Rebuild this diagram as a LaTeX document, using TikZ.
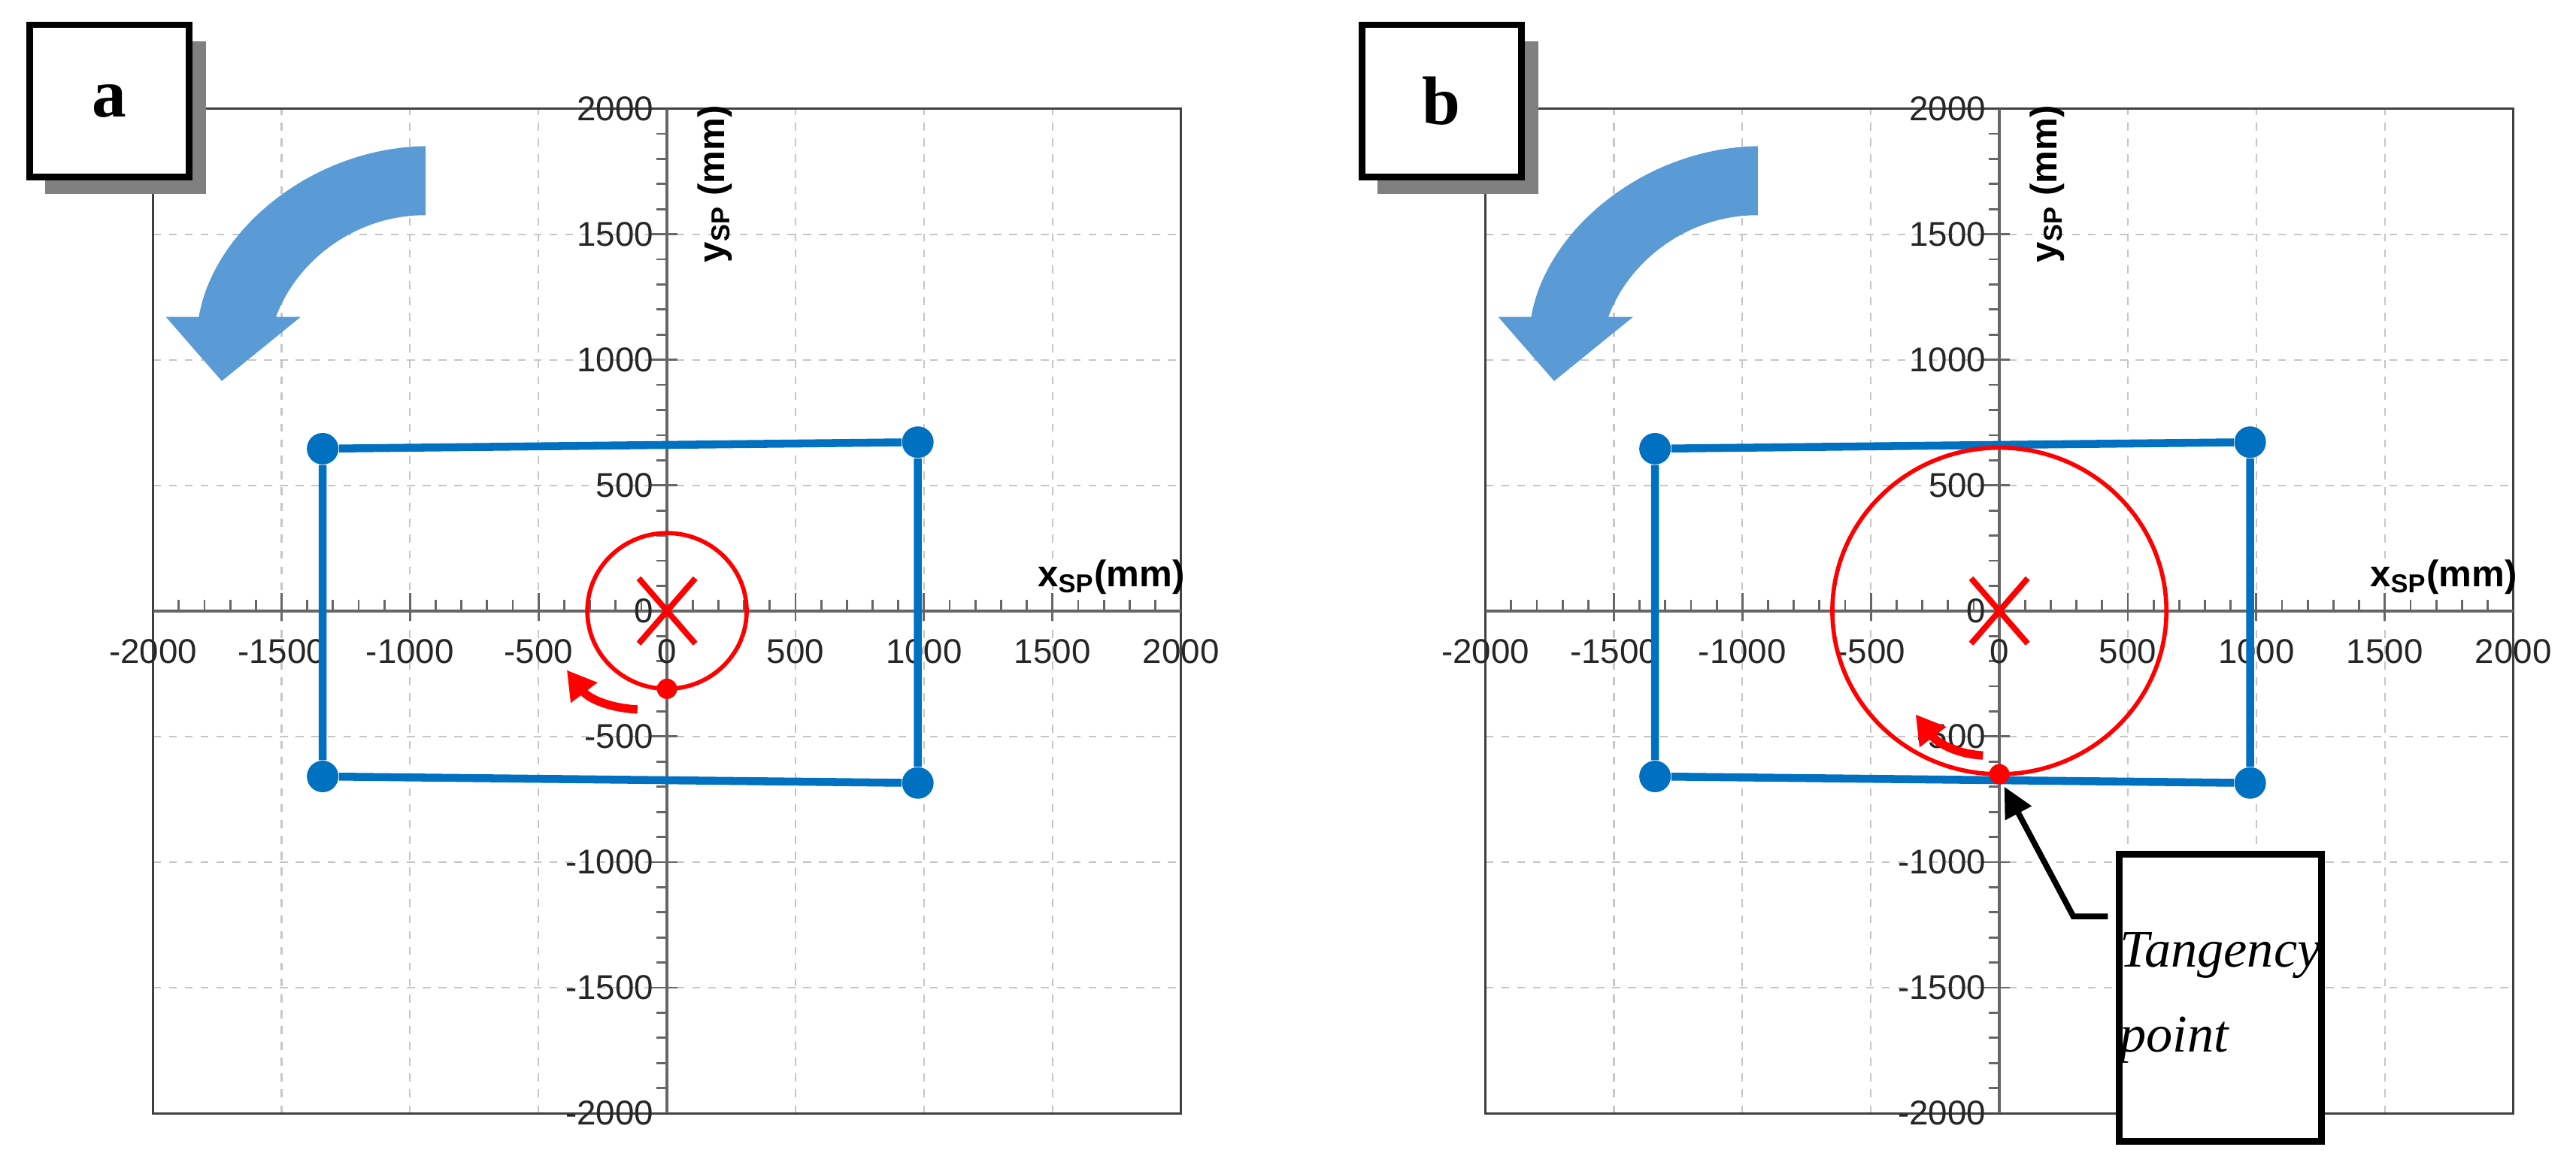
\documentclass[tikz,border=0pt]{standalone}
\usepackage{fontspec}
\setmainfont{Liberation Serif}
\newfontfamily\arialf{Liberation Sans}
\usetikzlibrary{arrows.meta}
\definecolor{plotblue}{RGB}{0,112,192}
\definecolor{arrowblue}{RGB}{91,155,213}
\tikzset{
  grid/.style={gray!45, dashed, line width=0.6pt},
  frame/.style={black!75, line width=0.8pt},
  axis/.style={black!60, line width=1.2pt},
  tick/.style={font=\arialf\fontsize{13}{13}\selectfont, text=black!85, inner sep=1pt},
  rect/.style={plotblue, line width=3pt},
  corner/.style={circle, fill=plotblue, inner sep=0pt, minimum size=0.42cm},
  redc/.style={red, line width=1.6pt},
  lbox/.style={draw=black, line width=2.5pt, fill=white},
  shadow/.style={fill=black!50, minimum width=2.14cm, minimum height=2.03cm, inner sep=0pt},
}
\newcommand{\panel}[2]{% #1 origin x thumb, #2 circle radius mm
\begin{scope}[shift={(#1,372)}, x=0.003425cm, y=0.003349cm]
  \foreach \v in {-1500,-1000,-500,500,1000,1500}{
    \draw[grid] (\v,-2000) -- (\v,2000);
    \draw[grid] (-2000,\v) -- (2000,\v);
  }
  \draw[frame] (-2000,-2000) rectangle (2000,2000);
  \draw[axis] (-2000,0) -- (2000,0);
  \draw[axis] (0,-2000) -- (0,2000);
  \foreach \v in {-1900,-1800,...,1900}{
    \draw[black!60, line width=0.8pt] (\v,0) -- (\v,45);
    \draw[black!60, line width=0.8pt] (0,\v) -- (-40,\v);
  }
  \foreach \v in {-1500,-1000,-500,500,1000,1500}{
    \draw[black!60, line width=0.8pt] (\v,-40) -- (\v,70);
    \draw[black!60, line width=0.8pt] (-70,\v) -- (40,\v);
  }
  \foreach \v in {-2000,-1500,-1000,-500,0,500,1000,1500,2000}{
    \node[tick] (xl\v) at (\v,-160) {\v};
  }
  \foreach \v in {-2000,-1500,-1000,-500,0,500,1000,1500,2000}{
    \node[tick, anchor=east] (yl\v) at (-40,\v) {\v};
  }
  \node[font=\arialf\bfseries\fontsize{14}{14}\selectfont] (xlab) at (1729,135) {x\textsubscript{SP}(mm)};
  \node[font=\arialf\bfseries\fontsize{14}{14}\selectfont, rotate=90] (ylab) at (185,1700) {y\textsubscript{SP} (mm)};
  \node[corner] (c1) at (-1340,646) {};
  \node[corner] (c2) at (976,672) {};
  \node[corner] (c3) at (976,-685) {};
  \node[corner] (c4) at (-1340,-659) {};
  \draw[rect] (c1) -- (c2) -- (c3) -- (c4) -- (c1);
  \draw[redc] (0,0) circle (#2);
  \draw[red, line width=2.2pt] (-110,-130) -- (110,130) (-110,130) -- (110,-130);
  \node[circle, fill=red, inner sep=0pt, minimum size=0.27cm] (rd) at (0,-#2) {};
\end{scope}
}
\begin{document}
\begin{tikzpicture}[x=0.02185cm, y=-0.02185cm]
\useasboundingbox (0,0) rectangle (1568,702);
\fill[white] (0,0) rectangle (1568,702);
\panel{406}{310}
\panel{1217}{650}
\node[shadow] (sa) at (76.5,71.5) {};
\node[shadow] (sb) at (887.5,71.5) {};
\node[lbox, minimum width=2.12cm, minimum height=2.03cm, inner sep=0pt, font=\bfseries\fontsize{26}{26}\selectfont] (la) at (66.5,61.5) {a};
\node[lbox, minimum width=2.12cm, minimum height=2.03cm, inner sep=0pt, font=\bfseries\fontsize{26}{26}\selectfont] (lb) at (877.5,61.5) {b};
\foreach \o in {0,811}{
  \fill[arrowblue] (259+\o,89) .. controls (190+\o,90) and (130+\o,140) .. (121+\o,193)
     -- (101+\o,193) -- (135+\o,232) -- (183+\o,193) -- (168+\o,193)
     .. controls (180+\o,160) and (215+\o,131) .. (259+\o,131) -- cycle;
}
\draw[red, line width=3.2pt, -{Triangle[length=0.38cm, width=0.42cm]}] (388,432) .. controls (370,431) and (358,425) .. (345,408);
\draw[red, line width=3.2pt, -{Triangle[length=0.38cm, width=0.42cm]}] (1207,460) .. controls (1190,459) and (1179,452) .. (1166,435);
\node[lbox, minimum width=2.69cm, minimum height=3.82cm, align=left, inner sep=0pt, font=\itshape\fontsize{20}{32}\selectfont] (tb) at (1351.5,607.5) {Tangency\\point};
\coordinate (bend) at (1262,558);
\draw[line width=2.2pt, -{Triangle[length=0.4cm, width=0.38cm]}] (1283,558) -- (bend) -- (1220,479);
\end{tikzpicture}
\end{document}
